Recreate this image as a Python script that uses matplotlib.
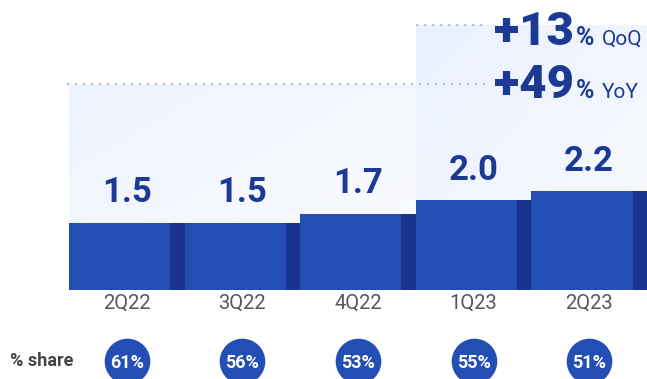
import numpy as np
import matplotlib.pyplot as plt
from matplotlib import transforms

quarters = ['2Q22', '3Q22', '4Q22', '1Q23', '2Q23']
revenue = [1.5, 1.5, 1.7, 2.0, 2.2]
share = [61, 56, 53, 55, 51]
qoq_growth = 13
yoy_growth = 49

NAVY = '#1c3a94'
BAR_FRONT = '#234fb5'
BAR_SIDE = '#19338f'
GREY = '#555555'
DOTS = '#a9c4f4'

plt.rcParams['font.family'] = ['Roboto', 'DejaVu Sans']

W, H = 647, 379
PX_PER_UNIT = 45.0
fig = plt.figure(figsize=(W / 100, H / 100), dpi=100)
ax = fig.add_axes([69 / W, 89 / H, (W - 69) / W, 290 / H])
x = np.arange(len(quarters))


def panel(x0, x1, top, c0, c1):
    # soft diagonal gradient behind the bars
    n = 64
    gx, gy = np.meshgrid(np.linspace(0, 1, n), np.linspace(0, 1, n))
    t = ((gx + gy) / 2)[..., None]
    rgb = np.array(c0) * (1 - t) + np.array(c1) * t
    ax.imshow(rgb, extent=(x0, x1, 0, top), origin='upper', aspect='auto',
              zorder=0, interpolation='bilinear')


hex2rgb = lambda h: [int(h[i:i + 2], 16) / 255 for i in (1, 3, 5)]
top_low = 206 / PX_PER_UNIT
top_high = 265 / PX_PER_UNIT
panel(-0.52, 2.5, top_low, hex2rgb('#edf3fe'), hex2rgb('#fbfcff'))
panel(2.5, 4.6, top_high, hex2rgb('#eaf1fe'), hex2rgb('#fafbff'))

ax.plot([-0.52, 3.1], [top_low, top_low], color=DOTS, lw=1.6,
        linestyle=(0, (1, 2.6)), zorder=1, clip_on=False)
ax.plot([2.5, 3.1], [top_high, top_high], color=DOTS, lw=1.6,
        linestyle=(0, (1, 2.6)), zorder=1, clip_on=False)

# front face plus darker side strip
ax.bar(x - 0.5, revenue, width=0.875, align='edge', color=BAR_FRONT, zorder=2)
ax.bar(x + 0.375, revenue, width=0.125, align='edge', color=BAR_SIDE, zorder=2)

for i, v in zip(x, revenue):
    ax.annotate(f'{v:.1f}', (i, v), xytext=(0, 14.5), textcoords='offset points',
                ha='center', va='baseline', fontsize=25, fontweight='bold',
                color=NAVY, zorder=3)

ax.set_xlim(-0.5, 4.5)
ax.set_ylim(0, 290 / PX_PER_UNIT)
ax.set_xticks(x, quarters)
ax.tick_params(axis='x', length=0, pad=3, labelsize=14.5, labelcolor=GREY)
ax.set_yticks([])
for s in ax.spines.values():
    s.set_visible(False)
ax.patch.set_visible(False)

# share badges under each quarter
trans = transforms.blended_transform_factory(ax.transData, fig.transFigure)
badge_y = 1 - 361 / H
ax.scatter(x, [badge_y] * len(x), s=1080, color=BAR_FRONT, transform=trans,
           clip_on=False, zorder=3, linewidths=0)
for i, p in zip(x, share):
    ax.text(i, badge_y, f'{p}%', transform=trans, ha='center',
            va='center_baseline', color='white', fontsize=13,
            fontweight='bold', zorder=4)
fig.text(10 / W, 1 - 366 / H, '% share', fontsize=13, fontweight='bold',
         color='#444444', va='baseline')

# growth headline
for base, val, tag in [(45, qoq_growth, 'QoQ'), (98, yoy_growth, 'YoY')]:
    yb = 1 - base / H
    fig.text(494 / W, yb, f'+{val}', fontsize=34, fontweight='heavy',
             color=NAVY, va='baseline')
    fig.text(576 / W, yb, '%', fontsize=18, fontweight='bold',
             color=NAVY, va='baseline')
    fig.text(602 / W, yb, tag, fontsize=15, color=NAVY, va='baseline')

fig.savefig('out.png', dpi=100)
